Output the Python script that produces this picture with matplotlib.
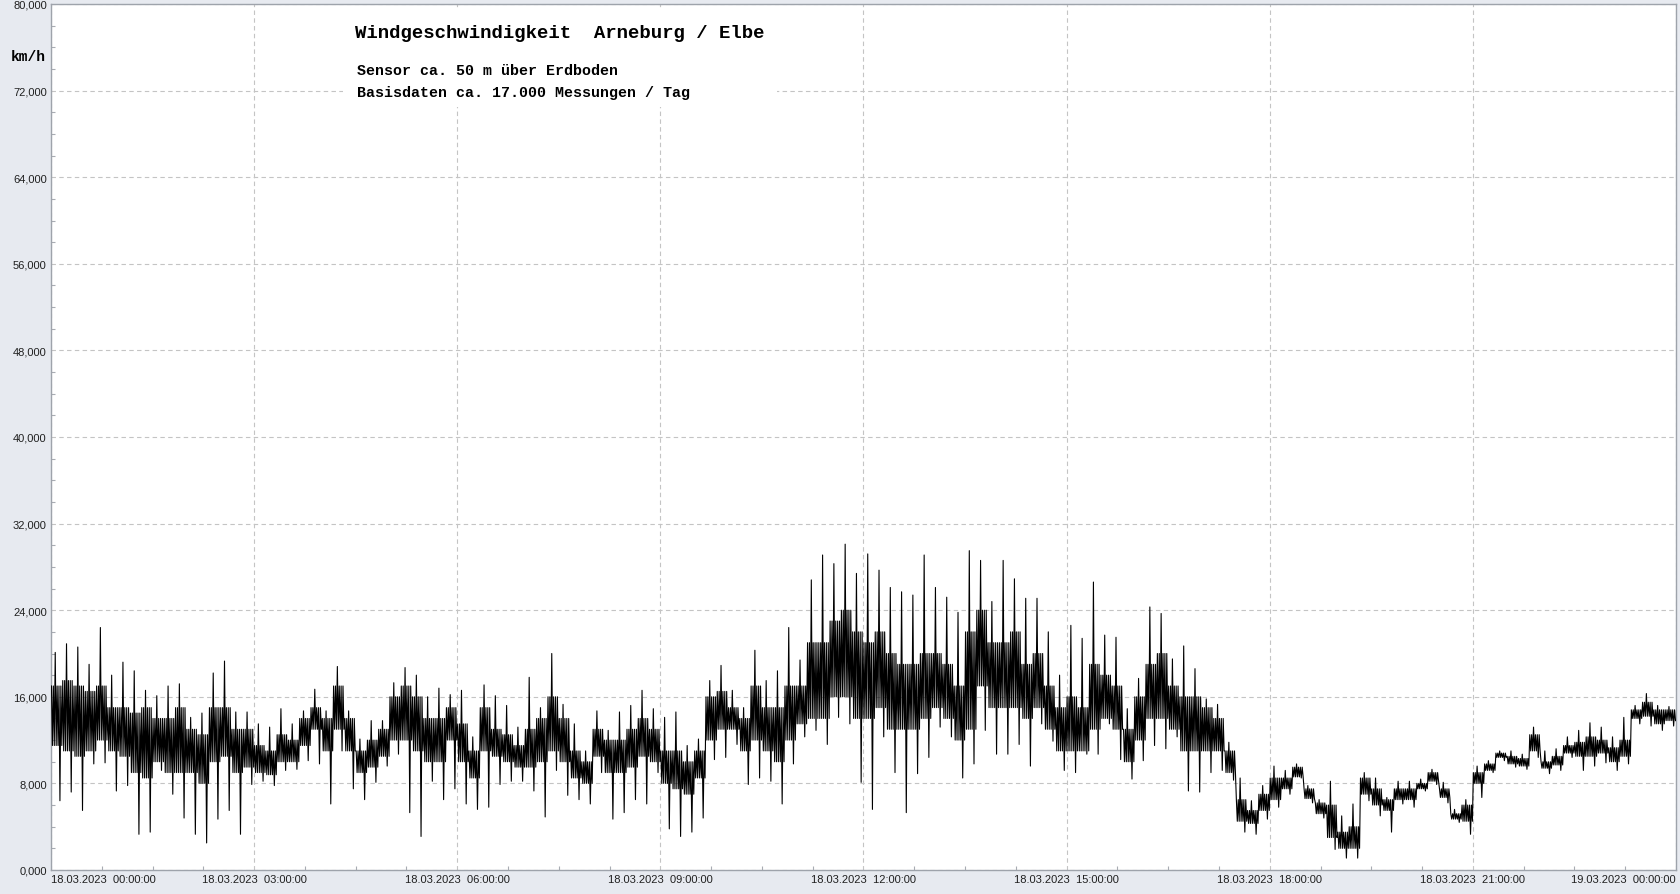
import numpy as np
import matplotlib
matplotlib.use("Agg")
import matplotlib.pyplot as plt
from matplotlib.patches import Rectangle
from matplotlib.ticker import FuncFormatter, MultipleLocator

# Windgeschwindigkeit km/h, abgelesen je 10 Minuten (144 Intervalle, 18.03.2023 00:00 - 24:00)
# spitze = Maximum, tal = Minimum, oben/unten = dichter Kernbereich
spitze = [
    20.1, 20.9, 20.6, 19.0, 22.4, 18.0, 19.2, 18.4, 16.6, 16.1, 17.0, 17.2,
    14.1, 14.5, 18.2, 19.3, 14.6, 14.6, 13.5, 13.2, 14.9, 13.5, 14.7, 16.7,
    14.7, 18.8, 14.7, 12.1, 13.8, 13.8, 17.3, 18.7, 18.0, 16.0, 16.8, 16.2,
    16.6, 12.3, 17.1, 16.1, 15.2, 13.2, 17.8, 15.0, 20.0, 15.3, 13.5, 11.0,
    14.7, 12.9, 14.6, 15.2, 16.6, 14.9, 14.1, 14.6, 11.5, 12.1, 17.5, 18.9,
    16.6, 15.0, 20.3, 17.5, 18.4, 22.4, 19.4, 26.8, 29.1, 28.3, 30.1, 27.4,
    29.2, 27.7, 26.1, 25.7, 25.4, 29.1, 26.1, 25.2, 23.8, 29.5, 28.6, 24.8,
    28.6, 26.9, 25.1, 25.1, 22.0, 18.0, 22.6, 21.4, 26.6, 21.7, 21.5, 14.9,
    17.7, 24.3, 23.7, 19.5, 20.7, 18.6, 15.8, 15.3, 11.8, 8.5, 6.4, 7.8,
    9.6, 9.2, 9.8, 7.8, 6.5, 8.2, 5.0, 6.1, 9.0, 8.5, 6.7, 8.2,
    8.2, 8.4, 9.3, 8.1, 5.6, 6.5, 9.6, 10.1, 11.0, 11.0, 10.7, 13.2,
    11.0, 11.2, 12.3, 12.9, 13.6, 13.2, 12.3, 14.1, 15.2, 16.3, 15.2, 15.1,
]
tal = [
    6.4, 7.2, 5.5, 9.8, 9.9, 7.3, 7.8, 3.3, 3.5, 9.2, 7.0, 4.8,
    3.3, 2.5, 4.7, 5.5, 3.3, 7.9, 8.2, 7.8, 9.2, 9.3, 10.1, 9.8,
    6.1, 11.0, 7.5, 6.5, 8.1, 9.6, 10.7, 5.3, 3.1, 8.2, 6.5, 7.5,
    6.1, 5.6, 5.8, 7.9, 8.2, 8.2, 7.3, 4.9, 9.2, 6.9, 6.5, 6.1,
    9.0, 4.7, 5.3, 6.5, 6.1, 9.0, 3.8, 3.1, 3.5, 4.8, 10.2, 10.4,
    11.6, 7.9, 8.5, 8.2, 6.1, 9.8, 12.3, 12.9, 11.6, 14.1, 13.5, 8.1,
    5.6, 12.3, 9.0, 5.3, 8.9, 10.4, 13.2, 12.3, 8.5, 9.8, 12.9, 10.7,
    10.7, 11.6, 9.6, 13.5, 11.9, 9.2, 9.0, 10.7, 10.7, 13.5, 10.2, 8.4,
    10.1, 11.5, 11.2, 12.3, 7.3, 7.2, 9.0, 9.2, 8.3, 3.5, 3.3, 4.7,
    5.8, 7.0, 8.5, 6.2, 4.8, 1.9, 1.1, 1.1, 6.4, 5.0, 3.5, 6.1,
    5.8, 7.3, 7.9, 6.2, 4.4, 3.3, 6.7, 9.0, 10.1, 9.5, 9.3, 10.4,
    8.9, 9.2, 10.4, 9.2, 9.6, 9.9, 9.2, 9.8, 13.5, 13.3, 12.9, 13.3,
]
oben = [
    17.0, 17.5, 17.0, 16.5, 17.0, 15.0, 15.0, 14.5, 15.0, 14.0, 14.0, 15.0,
    13.0, 12.5, 15.0, 15.0, 13.0, 13.0, 11.5, 11.0, 12.5, 12.0, 14.0, 15.0,
    14.0, 17.0, 14.0, 11.0, 12.0, 13.0, 16.0, 17.0, 16.0, 14.0, 14.0, 15.0,
    13.5, 11.0, 15.0, 13.0, 12.5, 11.5, 13.0, 14.0, 16.0, 14.0, 11.0, 10.0,
    13.0, 12.0, 12.0, 13.0, 14.0, 13.0, 11.0, 11.0, 10.0, 11.0, 16.0, 16.5,
    15.0, 14.0, 17.0, 15.0, 15.0, 17.0, 17.0, 21.0, 21.0, 23.0, 24.0, 22.0,
    21.0, 22.0, 20.0, 19.0, 19.0, 20.0, 20.0, 19.0, 17.0, 22.0, 24.0, 21.0,
    21.0, 22.0, 19.0, 20.0, 17.0, 15.0, 16.0, 15.0, 19.0, 18.0, 17.0, 13.0,
    16.0, 19.0, 20.0, 17.0, 16.0, 16.0, 15.0, 14.0, 11.0, 6.5, 5.5, 7.0,
    8.5, 8.5, 9.5, 7.5, 6.2, 6.0, 3.5, 4.0, 8.5, 7.5, 6.5, 7.5,
    7.5, 8.0, 9.0, 7.5, 5.2, 6.0, 9.0, 9.8, 10.8, 10.5, 10.3, 12.5,
    10.0, 10.5, 11.5, 11.8, 12.3, 12.0, 11.3, 12.0, 14.8, 15.5, 14.8, 14.8,
]
unten = [
    11.5, 11.0, 10.5, 11.0, 12.0, 11.0, 10.5, 9.0, 8.5, 10.0, 9.0, 9.0,
    9.0, 8.0, 10.0, 10.5, 9.0, 9.5, 9.0, 8.8, 10.0, 10.0, 11.5, 13.0,
    11.0, 13.0, 11.0, 9.0, 9.5, 10.5, 12.0, 12.0, 11.0, 10.0, 10.0, 12.0,
    10.0, 8.5, 11.0, 10.5, 10.0, 9.5, 9.5, 10.0, 11.0, 10.0, 8.5, 8.0,
    10.5, 9.0, 9.0, 9.5, 10.5, 10.0, 8.0, 7.5, 7.0, 8.5, 12.0, 13.0,
    13.0, 11.0, 12.0, 11.0, 10.0, 12.0, 13.5, 14.0, 14.0, 16.0, 16.0, 14.0,
    14.0, 15.0, 13.0, 13.0, 13.0, 14.0, 15.0, 14.0, 12.0, 13.0, 17.0, 15.0,
    15.0, 15.0, 14.0, 15.0, 13.0, 11.0, 11.0, 11.0, 13.0, 14.0, 13.0, 10.0,
    12.0, 14.0, 14.0, 13.0, 11.0, 11.0, 11.0, 11.0, 9.0, 4.5, 4.3, 5.5,
    6.5, 7.5, 8.6, 6.6, 5.2, 3.0, 2.0, 2.0, 7.0, 6.0, 5.5, 6.5,
    6.5, 7.5, 8.2, 6.7, 4.7, 4.5, 8.0, 9.2, 10.4, 9.8, 9.6, 11.0,
    9.4, 9.7, 10.8, 10.5, 10.5, 10.8, 10.0, 10.5, 14.0, 14.2, 13.5, 13.8,
]

x_labels = [
    '18.03.2023  00:00:00', '18.03.2023  03:00:00', '18.03.2023  06:00:00',
    '18.03.2023  09:00:00', '18.03.2023  12:00:00', '18.03.2023  15:00:00',
    '18.03.2023  18:00:00', '18.03.2023  21:00:00', '19.03.2023  00:00:00',
]

W, H = 1681, 895
bg = '#e7eaf0'
fig = plt.figure(figsize=(W / 100, H / 100), dpi=100, facecolor=bg)
ax = fig.add_axes([51 / W, 1 - 871 / H, (1676 - 51) / W, (871 - 5) / H])
ax.set_facecolor('white')

# Zeitachse in Stunden, 10-Minuten-Intervalle; je Intervall ein Zickzack durch Kern und Extremwerte
n = len(spitze)
start = np.arange(n) / 6.0
folge = [oben, unten, oben, unten, spitze, unten, oben, unten, oben, tal, oben, unten]
offs = (np.arange(len(folge)) + 0.5) / len(folge) / 6.0
xs = (start[:, None] + offs[None, :]).ravel()
ys = np.column_stack(folge).ravel()

ax.plot(xs, ys, color='black', linewidth=0.8, zorder=3)

ax.set_xlim(0, 24)
ax.set_ylim(0, 80)

ax.xaxis.set_minor_locator(MultipleLocator(0.75))
ax.yaxis.set_major_locator(MultipleLocator(8))
ax.yaxis.set_minor_locator(MultipleLocator(2))
ax.set_xticks(np.arange(0, 25, 3))
ax.set_xticklabels(x_labels)
ax.yaxis.set_major_formatter(FuncFormatter(lambda v, p: f'{v:.3f}'.replace('.', ',')))

ax.tick_params(which='major', length=0, pad=3, labelcolor='#202020')
ax.tick_params(which='minor', direction='in', length=3.2, width=0.8, color='#a8acb3')
for lab in ax.get_xticklabels() + ax.get_yticklabels():
    lab.set_fontfamily('Liberation Sans')
    lab.set_fontsize(8)
xl = ax.get_xticklabels()
xl[0].set_horizontalalignment('left')
xl[-1].set_horizontalalignment('right')
yl = ax.get_yticklabels()
yl[0].set_verticalalignment('bottom')
yl[-1].set_verticalalignment('top')

ax.set_axisbelow(True)
ax.grid(which='major', color='#c4c4c4', linestyle=(0, (4, 3)), linewidth=0.8)
for s in ax.spines.values():
    s.set_color('#9ea3ab')
    s.set_linewidth(1.0)

# weisser Kasten hinter dem Titel
ax.add_patch(Rectangle((343 / W, 1 - 108 / H), 434 / W, 97 / H, transform=fig.transFigure,
                       facecolor='white', edgecolor='none', zorder=1))

mono = 'Liberation Mono'
fig.text(355 / W, 1 - 37.7 / H, 'Windgeschwindigkeit  Arneburg / Elbe', family=mono,
         weight='bold', size=13.7, ha='left', va='baseline', color='black')
fig.text(357 / W, 1 - 75 / H, 'Sensor ca. 50 m über Erdboden', family=mono,
         weight='bold', size=10.8, ha='left', va='baseline', color='black')
fig.text(357 / W, 1 - 96.7 / H, 'Basisdaten ca. 17.000 Messungen / Tag', family=mono,
         weight='bold', size=10.8, ha='left', va='baseline', color='black')
fig.text(28 / W, 1 - 57 / H, 'km/h', family=mono, weight='bold', size=10.5,
         ha='center', va='center', color='black')

fig.savefig('out.png', dpi=100, facecolor=bg)
